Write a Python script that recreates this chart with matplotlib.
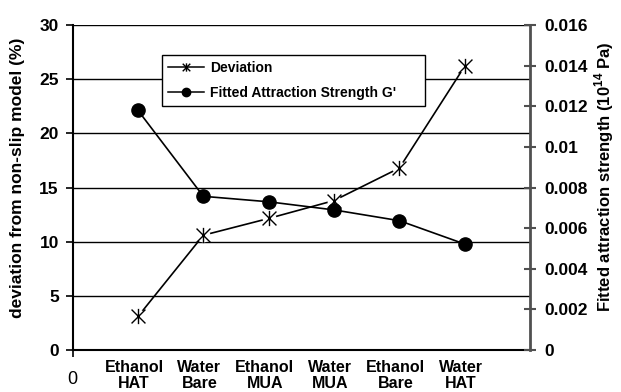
import matplotlib
matplotlib.use('Agg')
import matplotlib.pyplot as plt
import matplotlib.transforms as mtransforms
from matplotlib.path import Path
from matplotlib.lines import Line2D

plt.rcParams['font.family'] = ['Liberation Sans', 'DejaVu Sans']
plt.rcParams['font.weight'] = 'bold'
plt.rcParams['mathtext.fontset'] = 'custom'
plt.rcParams['mathtext.rm'] = 'Liberation Sans'
plt.rcParams['mathtext.bf'] = 'Liberation Sans:bold'

# samples (liquid / surface)
categories = ['Ethanol\nHAT', 'Water\nBare', 'Ethanol\nMUA', 'Water\nMUA', 'Ethanol\nBare', 'Water\nHAT']
deviation = [3.1, 10.6, 12.15, 13.8, 16.8, 26.2]            # %
g_prime = [0.0118, 0.00757, 0.0073, 0.0069, 0.00637, 0.00522]  # 10^14 Pa
left_ticks = [0, 5, 10, 15, 20, 25, 30]
right_ticks = [0, 0.002, 0.004, 0.006, 0.008, 0.01, 0.012, 0.014, 0.016]
right_labels = ['0', '0.002', '0.004', '0.006', '0.008', '0.01', '0.012', '0.014', '0.016']

# asterisk-like marker: X plus a vertical bar
star = Path([(-1, -1), (1, 1), (-1, 1), (1, -1), (0, -1.1), (0, 1.1)],
            [Path.MOVETO, Path.LINETO] * 3)

fig = plt.figure(figsize=(6.21, 3.92), dpi=100)
ax = fig.add_axes([0.117, 0.107, 0.7365, 0.829])
ax2 = ax.twinx()

x = list(range(1, len(categories) + 1))

ax.set_xlim(0, 7)
ax.set_ylim(0, 30)
ax.set_yticks(left_ticks)
ax.set_yticklabels([str(t) for t in left_ticks], fontsize=12.5, fontweight='bold')
for t in left_ticks[1:]:
    ax.axhline(t, color='black', lw=1.0, zorder=1)

ax.set_xticks(x)
ax.set_xticklabels(categories, fontsize=11.5, fontweight='bold', linespacing=1.1)
ax.tick_params(axis='x', length=0, pad=7)
shift = mtransforms.ScaledTranslation(-4 / 100, 0, fig.dpi_scale_trans)
for lab in ax.get_xticklabels():
    lab.set_transform(lab.get_transform() + shift)
ax.set_xticks([0], minor=True)
ax.tick_params(axis='x', which='minor', length=5, width=1.2, direction='out')
ax.text(0, -0.092, '0', transform=ax.get_xaxis_transform(), ha='center', va='center',
        fontsize=13, fontweight='normal')

ax.tick_params(axis='y', length=5, width=1.2, direction='out', pad=5)
ax.set_ylabel('deviation from non-slip model (%)', fontsize=12.5, fontweight='bold')
ax.yaxis.set_label_coords(-0.12, 0.53)
ax.yaxis.label.set_va('center')

for side in ['top', 'right']:
    ax.spines[side].set_visible(False)
ax.spines['left'].set_linewidth(1.5)
ax.spines['bottom'].set_linewidth(1.5)

# deviation series on the left axis
ax.plot(x, deviation, color='black', lw=1.2, zorder=3)
ax.plot(x, deviation, ls='none', marker='o', ms=10, mfc='white', mec='none', zorder=3.5)
ax.plot(x, deviation, ls='none', marker=star, ms=11, mfc='none', mec='black', mew=1.0, zorder=4)

# fitted attraction strength on the right axis
ax2.set_ylim(0, 0.016)
ax2.set_yticks(right_ticks)
ax2.set_yticklabels(right_labels, fontsize=12.5, fontweight='bold')
ax2.tick_params(axis='y', length=9, width=1.5, direction='inout', pad=6, color='#505050')
ax2.plot(x, g_prime, color='black', lw=1.2, marker='o', ms=9.5, mfc='black', mec='black', zorder=5)
ax2.set_ylabel('Fitted attraction strength (10$^{\\mathbf{14}}$ Pa)', fontsize=12, fontweight='bold')
ax2.yaxis.set_label_coords(1.163, 0.535)
ax2.yaxis.label.set_va('center')
for side in ['top', 'left', 'bottom']:
    ax2.spines[side].set_visible(False)
ax2.spines['right'].set_linewidth(2)
ax2.spines['right'].set_color('#505050')

handles = [
    Line2D([], [], color='black', lw=1.1, marker=star, ms=6, mfc='none', mew=1.0),
    Line2D([], [], color='black', lw=1.1, marker='o', ms=6),
]
leg = ax2.legend(handles, ['Deviation', "Fitted Attraction Strength G'"],
                 loc='lower left', bbox_to_anchor=(0.195, 0.751, 0.575, 0.16), mode='expand',
                 prop={'size': 10, 'weight': 'bold'}, frameon=True, fancybox=False,
                 edgecolor='black', framealpha=1, handlelength=2.6, handletextpad=0.4,
                 labelspacing=0.75, borderpad=0.45, borderaxespad=0)
leg.get_frame().set_linewidth(1.0)

fig.savefig('out.png', dpi=100)
